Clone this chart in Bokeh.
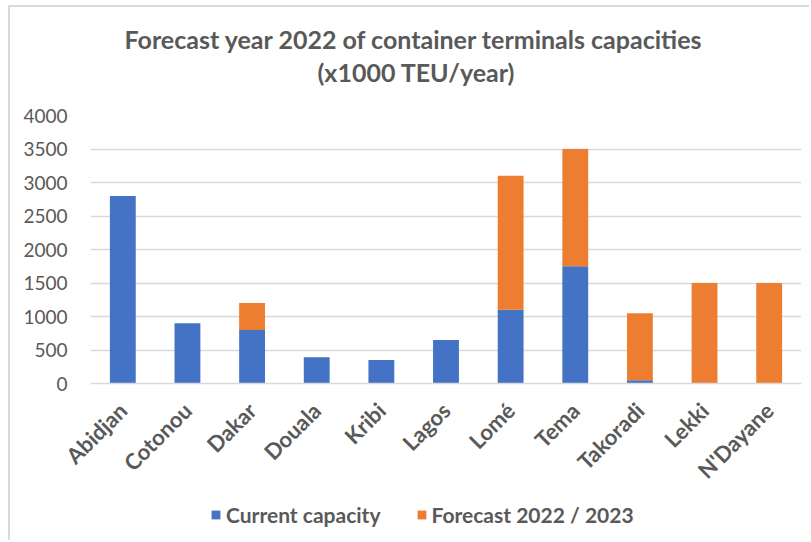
from bokeh.plotting import figure
from bokeh.models import ColumnDataSource, Range1d, FactorRange, Title, Legend, SingleIntervalTicker
from bokeh.layouts import column
from bokeh.embed import file_html
from bokeh.resources import INLINE
import math

ports = ["Abidjan", "Cotonou", "Dakar", "Douala", "Kribi", "Lagos", "Lomé", "Tema", "Takoradi", "Lekki", "N'Dayane"]
current = [2800, 900, 800, 390, 350, 650, 1100, 1750, 50, 0, 0]
forecast = [0, 0, 400, 0, 0, 0, 2000, 1750, 1000, 1500, 1500]
series = ["current", "forecast"]
series_labels = ["Current capacity", "Forecast 2022 / 2023"]
colors = ["#4472C4", "#ED7D31"]

FONT = "Lato"
GREY = "#595959"

source = ColumnDataSource(data=dict(ports=ports, current=current, forecast=forecast))

p = figure(x_range=FactorRange(*ports), y_range=Range1d(0, 4000),
           width=801, height=489, output_backend="svg", toolbar_location=None,
           min_border_left=80, min_border_right=10, min_border_top=108, min_border_bottom=113)
p.x_range.range_padding = 0
p.outline_line_color = None

renderers = p.vbar_stack(series, x="ports", width=0.4, color=colors, source=source, line_color=None)

t2 = Title(text="(x1000 TEU/year)", align="left", text_font=FONT, text_font_size="25px",
           text_color=GREY, text_font_style="bold", offset=227, standoff=58)
t1 = Title(text="Forecast year 2022 of container terminals capacities", align="left", text_font=FONT,
           text_font_size="25px", text_color=GREY, text_font_style="bold", offset=34, standoff=-56)
p.add_layout(t2, "above")
p.add_layout(t1, "above")

p.yaxis.ticker = SingleIntervalTicker(interval=500)
p.yaxis.axis_line_color = None
p.yaxis.major_tick_line_color = None
p.yaxis.minor_tick_line_color = None
p.yaxis.major_label_text_font = FONT
p.yaxis.major_label_text_font_size = "19px"
p.yaxis.major_label_text_color = GREY
p.yaxis.major_label_standoff = 17

p.xaxis.axis_line_color = "#d9d9d9"
p.xaxis.axis_line_width = 1.5
p.xaxis.major_tick_line_color = None
p.xaxis.minor_tick_line_color = None
p.xaxis.major_label_orientation = math.pi / 4
p.xaxis.major_label_text_font = FONT
p.xaxis.major_label_text_font_size = "22px"
p.xaxis.major_label_text_font_style = "bold"
p.xaxis.major_label_text_color = GREY
p.xaxis.major_label_standoff = 17

p.xgrid.grid_line_color = None
p.ygrid.grid_line_color = "#d9d9d9"
p.ygrid.grid_line_width = 1.5

# legend strip: same stacked series, its y range set far above the bars so only the legend shows
pl = figure(width=801, height=46, x_range=FactorRange(*ports), y_range=Range1d(20000, 24000),
            output_backend="svg", toolbar_location=None, min_border=0,
            x_axis_location=None, y_axis_location=None)
pl.grid.visible = False
pl.outline_line_color = None
swatches = pl.vbar_stack(series, x="ports", width=0.4, color=colors, source=source, line_color=None)

legend = Legend(items=[(lbl, [r]) for lbl, r in zip(series_labels, swatches)],
                orientation="horizontal", location=(120, 15),
                label_text_font=FONT, label_text_font_size="21px", label_text_font_style="bold",
                label_text_color=GREY, glyph_width=11, glyph_height=11, spacing=35,
                border_line_color=None, background_fill_alpha=0, padding=5, margin=0)
pl.add_layout(legend, "center")

layout = column(p, pl, spacing=0,
                styles={"position": "relative", "left": "10px", "top": "7px",
                        "box-shadow": "-2px -2px 0 0 #d9d9d9"})

open("out.html", "w").write(file_html(layout, INLINE))
